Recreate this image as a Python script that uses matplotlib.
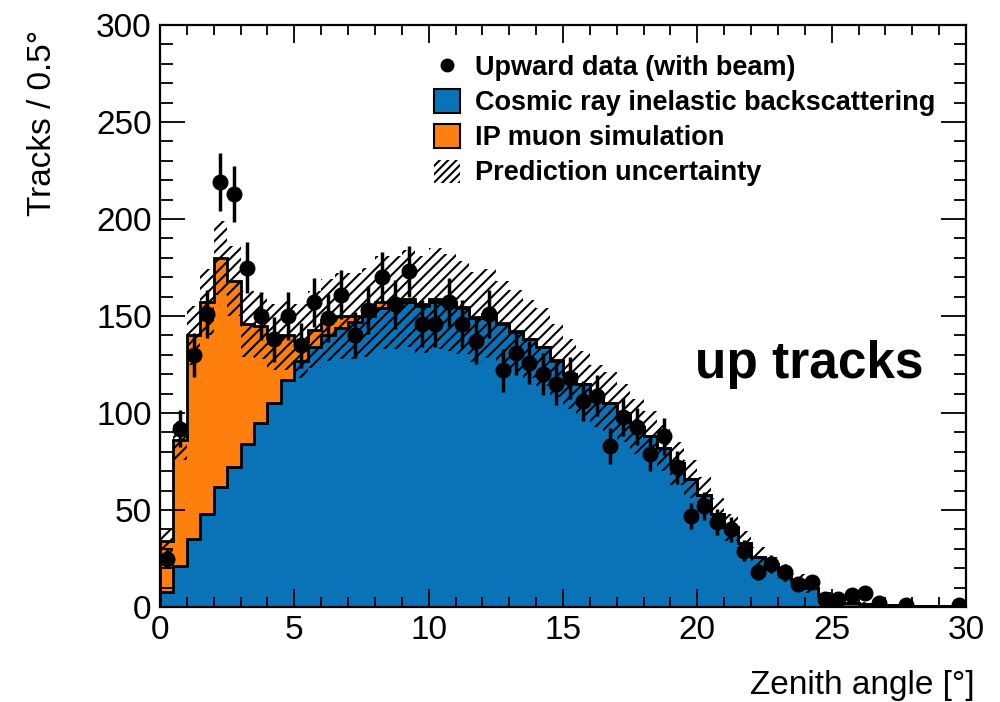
import numpy as np
import matplotlib

matplotlib.use("Agg")
import matplotlib.pyplot as plt  # noqa: E402
from matplotlib.lines import Line2D  # noqa: E402
from matplotlib.patches import Patch  # noqa: E402
from matplotlib.ticker import MultipleLocator  # noqa: E402

plt.rcParams["font.family"] = ["Liberation Sans", "DejaVu Sans"]
plt.rcParams["hatch.linewidth"] = 1.5

_BLUE = "#0a72b6"
_ORANGE = "#ff7f0e"

# 0.5 degree bins from 0 to 30
edges = np.arange(0, 30.01, 0.5)

cosmic = np.array([
    8, 21, 35, 48, 62, 72, 84, 95, 105, 117,
    127, 134, 140, 144, 147, 150, 154, 156, 157, 155,
    157, 156, 154, 149, 151, 146, 142, 138, 134, 127,
    120, 115, 109, 105, 100, 93, 88, 82, 74, 66,
    58, 48, 41, 33, 26, 22, 17, 14, 10, 6,
    2, 2, 1.5, 1, 1, 0.5, 0.5, 0.3, 0.3, 0.2,
])

ip_muon = np.array([
    26, 65, 105, 109, 118, 96, 62, 50, 34, 23,
    10, 9, 8, 6, 3, 2, 3, 1, 2, 1,
    2, 1, 0.5, 0.5, 0.3, 0.3, 0.2, 0.2, 0.1, 0.1,
    0, 0, 0, 0, 0, 0, 0, 0, 0, 0,
    0, 0, 0, 0, 0, 0, 0, 0, 0, 0,
    0, 0, 0, 0, 0, 0, 0, 0, 0, 0,
])

uncert = np.array([
    6, 10, 15, 17, 19, 18, 17, 17, 17, 18,
    19, 20, 21, 22, 22, 23, 24, 24, 25, 25,
    26, 25, 24, 23, 23, 22, 21, 20, 20, 19,
    18, 17, 16, 16, 15, 14, 13, 12, 11, 10,
    9, 8, 7, 6, 5, 4, 4, 3, 3, 2,
    1, 1, 1, 1, 0.5, 0.5, 0.5, 0.3, 0.3, 0.3,
])

data = np.array([
    25, 92, 130, 151, 219, 213, 175, 150, 138, 150,
    135, 157, 149, 161, 140, 153, 170, 156, 173, 146,
    146, 157, 146, 137, 151, 122, 131, 126, 120, 115,
    118, 106, 109, 83, 98, 93, 79, 88, 72, 47,
    52, 44, 40, 29, 18, 22, 18, 12, 13, 4,
    4, 6, 7, 2, 0, 1, 0, 0, 0, 1,
])

total = cosmic + ip_muon
centers = 0.5 * (edges[:-1] + edges[1:])

fig = plt.figure(figsize=(10, 7.02), dpi=100)
ax = fig.add_axes([0.16, 0.1353, 0.806, 0.829])

ax.stairs(cosmic, edges, fill=True, color=_BLUE, zorder=1)
ax.stairs(total, edges, baseline=cosmic, fill=True, color=_ORANGE, zorder=1)
ax.stairs(cosmic, edges, color="k", linewidth=2, zorder=2)
ax.stairs(total, edges, color="k", linewidth=2, zorder=2)
ax.stairs(total + uncert, edges, baseline=total - uncert, fill=True,
          facecolor="none", edgecolor="k", hatch="///", linewidth=0, zorder=3)

mask = data > 0
ax.errorbar(centers[mask], data[mask], yerr=np.sqrt(data[mask]), fmt="o",
            color="k", markersize=10.5, elinewidth=2.5, capsize=0, zorder=4)

ax.set_xlim(0, 30)
ax.set_ylim(0, 300)
ax.xaxis.set_major_locator(MultipleLocator(5))
ax.xaxis.set_minor_locator(MultipleLocator(1))
ax.yaxis.set_major_locator(MultipleLocator(50))
ax.yaxis.set_minor_locator(MultipleLocator(10))
ax.tick_params(which="both", direction="in", top=True, right=True,
               labelsize=24, width=1.3, colors="k")
ax.tick_params(axis="y", which="major", length=18, pad=6)
ax.tick_params(axis="y", which="minor", length=9)
ax.tick_params(axis="x", which="major", length=13, pad=6)
ax.tick_params(axis="x", which="minor", length=7)
for spine in ax.spines.values():
    spine.set_linewidth(1.6)

ax.set_ylabel("Tracks / 0.5°", fontsize=24, loc="top")
ax.yaxis.set_label_coords(-0.126, 0.992)
ax.set_xlabel("Zenith angle [°]", fontsize=24, loc="right")
ax.xaxis.set_label_coords(1.011, -0.108)

ax.text(0.806, 0.416, "up tracks", transform=ax.transAxes, ha="center",
        va="center", fontsize=37, fontweight="bold")

handles = [
    Line2D([], [], marker="o", color="k", linestyle="none", markersize=9),
    Patch(facecolor=_BLUE, edgecolor="k", linewidth=1.5),
    Patch(facecolor=_ORANGE, edgecolor="k", linewidth=1.5),
    Patch(facecolor="none", edgecolor="k", hatch="////", linewidth=0),
]
labels = [
    "Upward data (with beam)",
    "Cosmic ray inelastic backscattering",
    "IP muon simulation",
    "Prediction uncertainty",
]
ax.legend(handles, labels, loc="upper left", bbox_to_anchor=(0.34, 0.95),
          frameon=False, prop={"size": 19.5, "weight": "bold"},
          handlelength=0.95, handleheight=0.95, handletextpad=0.55,
          labelspacing=0.3, borderpad=0, borderaxespad=0)

fig.savefig("out.png", dpi=100, facecolor="white")
